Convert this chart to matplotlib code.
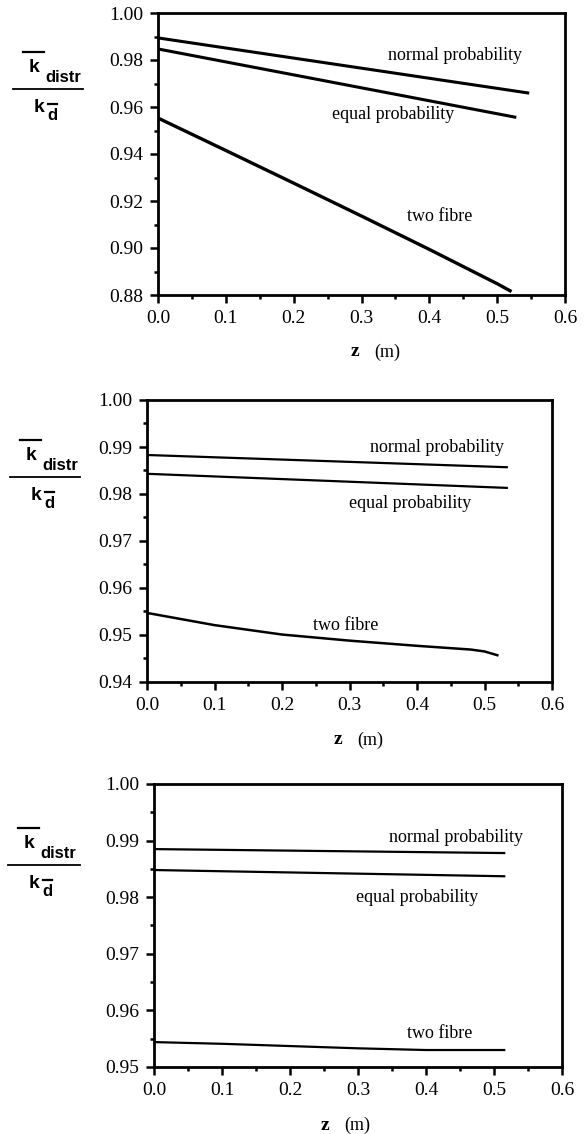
import matplotlib.pyplot as plt
from matplotlib.lines import Line2D
from matplotlib.ticker import MultipleLocator, FormatStrFormatter

# panel 1
z1_lin = [0.0, 0.545]
p1_normal = [0.9894, 0.9660]
z1_eq = [0.0, 0.526]
p1_equal = [0.9847, 0.9557]
z1_two = [0.0, 0.1, 0.2, 0.3, 0.4, 0.5, 0.519]
p1_two = [0.9553, 0.9415, 0.9276, 0.9136, 0.8994, 0.8848, 0.8818]

# panel 2
z2_lin = [0.0, 0.533]
p2_normal = [0.9883, 0.9857]
p2_equal = [0.9843, 0.9813]
z2_two = [0.0, 0.1, 0.2, 0.3, 0.4, 0.48, 0.5, 0.519]
p2_two = [0.9547, 0.9521, 0.9501, 0.9488, 0.9477, 0.9469, 0.9465, 0.9457]

# panel 3
z3_lin = [0.0, 0.515]
p3_normal = [0.9885, 0.9878]
p3_equal = [0.9848, 0.9837]
z3_two = [0.0, 0.1, 0.2, 0.3, 0.4, 0.515]
p3_two = [0.9544, 0.9541, 0.9537, 0.9533, 0.9530, 0.9530]

W, H = 585, 1134
serif = 'Liberation Serif'
sans = 'Liberation Sans'

fig = plt.figure(figsize=(W / 100, H / 100), dpi=100)


def px(x, y):
    return x / W, 1 - y / H


def axes_px(l, t, r, b):
    return fig.add_axes([l / W, 1 - b / H, (r - l) / W, (b - t) / H])


def ylabel_frac(xl, xr, yline):
    # overline k with subscript distr over k with overlined d
    fig.text(*px(xl + 21, yline - 22), 'k', fontsize=14, fontweight='bold',
             family=sans, ha='center', va='center')
    fig.add_artist(Line2D([(xl + 10) / W, (xl + 31) / W],
                          [1 - (yline - 37) / H] * 2, color='black', lw=1.6))
    fig.text(*px(xl + 32, yline - 11), 'distr', fontsize=12, fontweight='bold',
             family=sans, ha='left', va='center')
    fig.add_artist(Line2D([xl / W, xr / W], [1 - yline / H] * 2,
                          color='black', lw=1.3))
    fig.text(*px(xl + 26, yline + 18), 'k', fontsize=14, fontweight='bold',
             family=sans, ha='center', va='center')
    fig.text(*px(xl + 39, yline + 26), 'd', fontsize=12, fontweight='bold',
             family=sans, ha='center', va='center')
    fig.add_artist(Line2D([(xl + 35) / W, (xl + 44) / W],
                          [1 - (yline + 15) / H] * 2, color='black', lw=1.6))


def style(ax, ylo, major, minor, lw):
    ax.set_xlim(0, 0.6)
    ax.set_ylim(ylo, 1.0)
    ax.xaxis.set_major_locator(MultipleLocator(0.1))
    ax.xaxis.set_minor_locator(MultipleLocator(0.05))
    ax.yaxis.set_major_locator(MultipleLocator(major))
    ax.yaxis.set_minor_locator(MultipleLocator(minor))
    ax.xaxis.set_major_formatter(FormatStrFormatter('%.1f'))
    ax.yaxis.set_major_formatter(FormatStrFormatter('%.2f'))
    for s in ax.spines.values():
        s.set_linewidth(lw)
    ax.tick_params(which='both', direction='out', width=1.8, top=False, right=False)
    ax.tick_params(which='major', length=5.5, labelsize=14, pad=5)
    ax.tick_params(which='minor', length=3)
    for lab in ax.get_xticklabels() + ax.get_yticklabels():
        lab.set_family(serif)


def xlabel(ax, ypix, xc):
    fig.text(*px(xc - 17, ypix), 'z', fontsize=14, fontweight='bold',
             family=serif, ha='center', va='center')
    fig.text(*px(xc + 15, ypix), '(m)', fontsize=13, family=serif,
             ha='center', va='center')


def label(ax, x, y, s):
    ax.text(x, y, s, fontsize=13, family=serif, ha='center', va='center')


# panel 1
ax1 = axes_px(158, 13, 565, 295)
ax1.plot(z1_lin, p1_normal, color='black', lw=2.2)
ax1.plot(z1_eq, p1_equal, color='black', lw=2.2)
ax1.plot(z1_two, p1_two, color='black', lw=2.4)
style(ax1, 0.88, 0.02, 0.01, 2.0)
label(ax1, 0.438, 0.982, 'normal probability')
label(ax1, 0.346, 0.9566, 'equal probability')
label(ax1, 0.416, 0.9136, 'two fibre')
xlabel(ax1, 352, 372)
ylabel_frac(13, 83, 89)

# panel 2
ax2 = axes_px(147, 400, 552, 682)
ax2.plot(z2_lin, p2_normal, color='black', lw=1.6)
ax2.plot(z2_lin, p2_equal, color='black', lw=1.6)
ax2.plot(z2_two, p2_two, color='black', lw=1.8)
style(ax2, 0.94, 0.01, 0.005, 2.0)
label(ax2, 0.43, 0.990, 'normal probability')
label(ax2, 0.39, 0.978, 'equal probability')
label(ax2, 0.295, 0.952, 'two fibre')
xlabel(ax2, 740, 355)
ylabel_frac(10, 80, 477)

# panel 3
ax3 = axes_px(154, 784, 562, 1067)
ax3.plot(z3_lin, p3_normal, color='black', lw=1.6)
ax3.plot(z3_lin, p3_equal, color='black', lw=1.6)
ax3.plot(z3_two, p3_two, color='black', lw=1.6)
style(ax3, 0.95, 0.01, 0.005, 2.0)
label(ax3, 0.444, 0.9906, 'normal probability')
label(ax3, 0.387, 0.980, 'equal probability')
label(ax3, 0.42, 0.956, 'two fibre')
xlabel(ax3, 1125, 342)
ylabel_frac(8, 80, 865)

fig.savefig('out.png', dpi=100)
